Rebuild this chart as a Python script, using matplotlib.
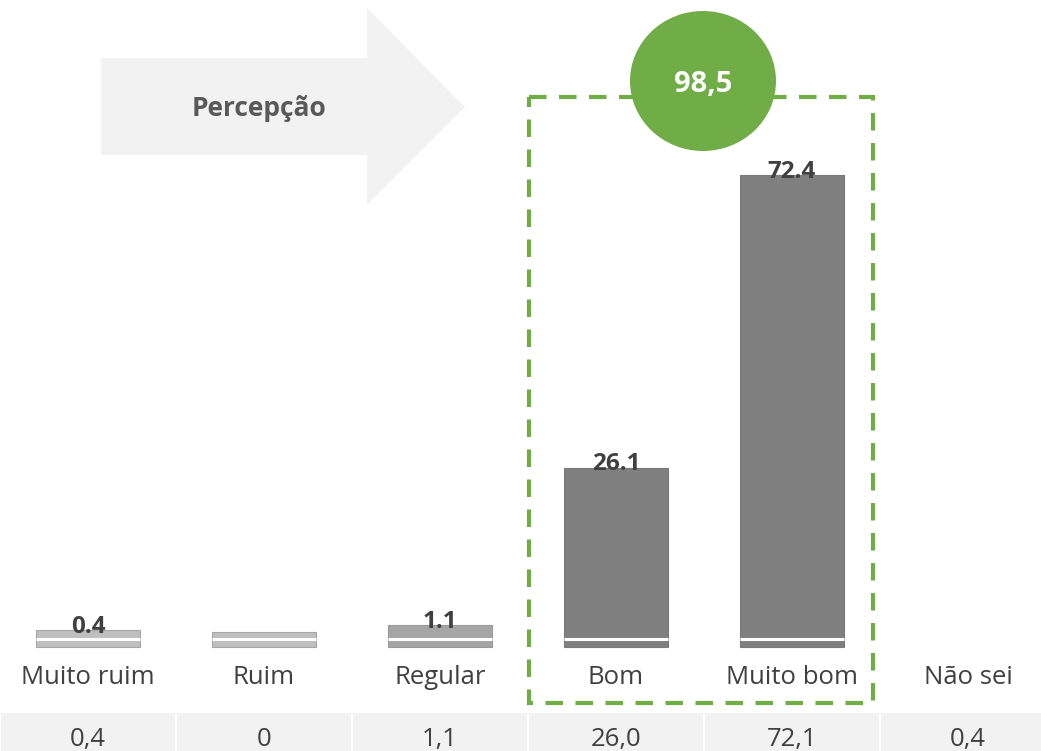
import matplotlib.pyplot as plt
from matplotlib.patches import Polygon, Ellipse, Rectangle

plt.rcParams['font.family'] = ['Open Sans', 'DejaVu Sans']

# Survey answers and their shares
categories = ['Muito ruim', 'Ruim', 'Regular', 'Bom', 'Muito bom', 'Não sei']
bar_values = [0.4, 0.0, 1.1, 26.1, 72.4]
bar_labels = ['0.4', '', '1.1', '26.1', '72.4']
table_values = ['0,4', '0', '1,1', '26,0', '72,1', '0,4']
positive_total = '98,5'

bar_colors = ['#bfbfbf', '#bfbfbf', '#a5a5a5', '#7f7f7f', '#7f7f7f']
edge_colors = ['#a6a6a6', '#a6a6a6', '#9a9a9a', '#7a7a7a', '#7a7a7a']
stub = 2.3      # fixed foot under each bar
green = '#70ad47'
text_dark = '#404040'

fig = plt.figure(figsize=(10.41, 7.51), dpi=100)
ax = fig.add_axes([0, 0, 1, 1])
ax.set_xlim(-0.5, 5.415)
ax.set_ylim(-16.5, 102.5)
ax.axis('off')

x = range(len(bar_values))
heights = [v + stub for v in bar_values]
ax.bar(x, heights, width=0.59, color=bar_colors, edgecolor=edge_colors, linewidth=0.8, zorder=2)
# white cut near the foot of each bar
for i in x:
    ax.plot([i - 0.295, i + 0.295], [1.25, 1.25], color='white', lw=2.2, zorder=3,
            solid_capstyle='butt')
for i, (h, lab) in enumerate(zip(heights, bar_labels)):
    if lab:
        ax.text(i, h - 0.45, lab, ha='center', va='baseline', fontsize=17.5,
                fontweight='bold', color=text_dark, zorder=4)

# category names
for i, c in enumerate(categories):
    ax.text(i, -4.9, c, ha='center', va='center', fontsize=18.5, color=text_dark)

# value row at the bottom
for i, v in enumerate(table_values):
    ax.add_patch(Rectangle((i - 0.5 + 0.006, -17), 0.988, 17 - 10.45,
                           facecolor='#f2f2f2', edgecolor='none'))
    ax.text(i, -14.6, v, ha='center', va='center', fontsize=18.5, color=text_dark)

# overlay in pixel units for the decorations
ov = fig.add_axes([0, 0, 1, 1], facecolor='none')
ov.set_xlim(0, 1041)
ov.set_ylim(751, 0)
ov.axis('off')

arrow = Polygon([(101, 58), (367, 58), (367, 8), (465, 107), (367, 205),
                 (367, 155), (101, 155)], closed=True, facecolor='#f2f2f2',
                edgecolor='none', zorder=1)
ov.add_patch(arrow)
ov.text(259, 108, 'Percepção', ha='center', va='center', fontsize=19,
        fontweight='bold', color='#595959')

box = Rectangle((529, 97), 344, 606, facecolor='none', edgecolor=green,
                linewidth=3, linestyle=(0, (4.2, 3)), zorder=2)
ov.add_patch(box)

circle = Ellipse((703, 81), 146, 140, facecolor=green, edgecolor='none', zorder=3)
ov.add_patch(circle)
ov.text(703, 84, positive_total, ha='center', va='center', fontsize=21,
        fontweight='bold', color='white', zorder=4)

fig.savefig('out.png', dpi=100)
